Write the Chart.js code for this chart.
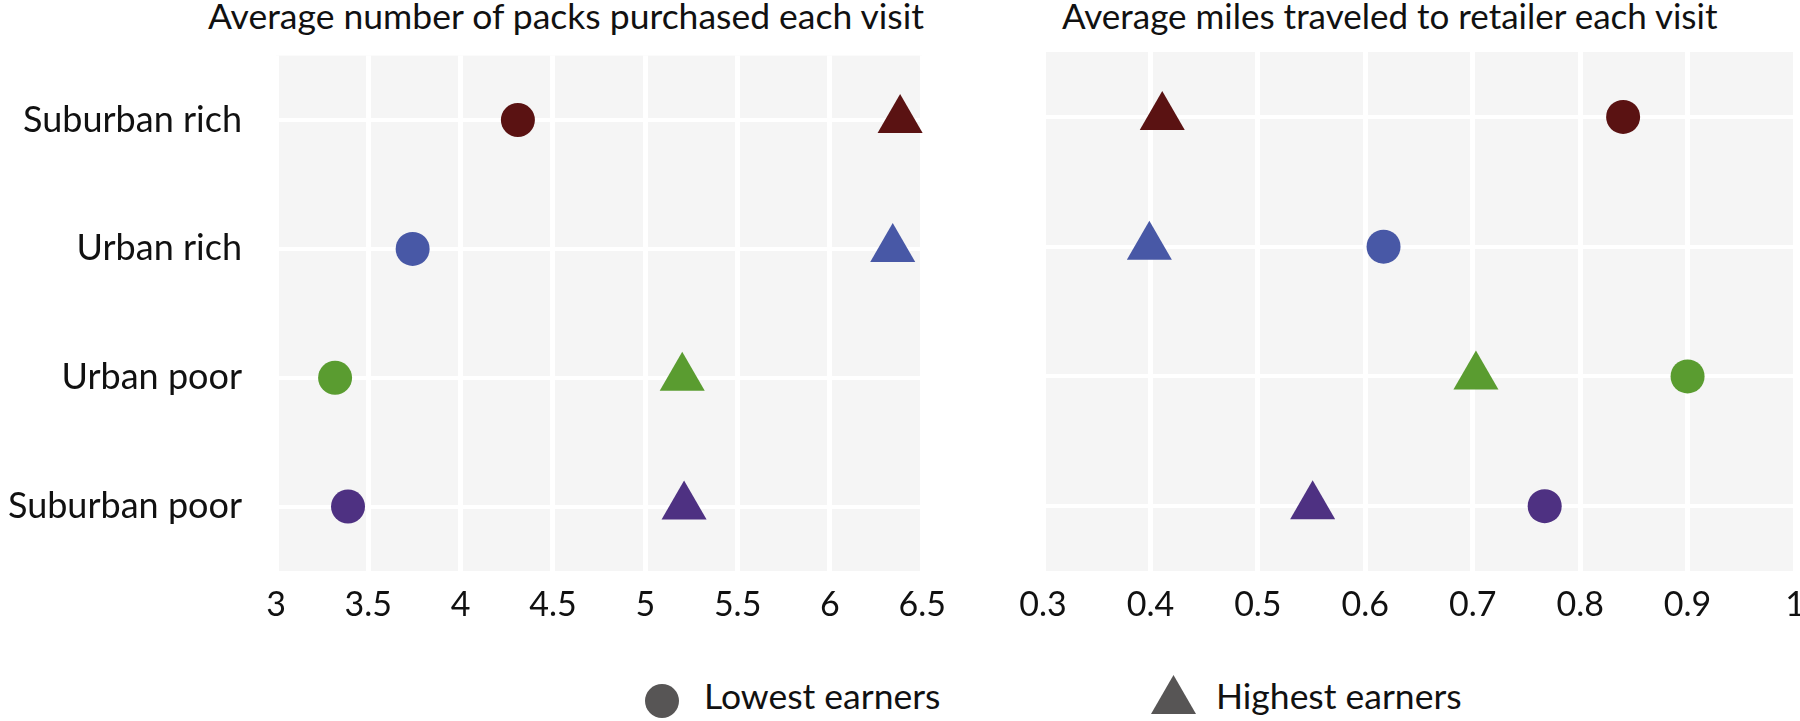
<!DOCTYPE html>
<html>
<head>
<meta charset="utf-8">
<title>Packs and miles by area</title>
<script src="https://cdn.jsdelivr.net/npm/chart.js@4.4.1/dist/chart.umd.min.js"></script>
<style>
  html, body { margin: 0; padding: 0; background: #fff; }
  body { width: 1800px; height: 721px; position: relative; overflow: hidden; font-family: Lato, sans-serif; color: #111; }
  canvas { position: absolute; top: 0; }
  #packsChart { left: 0; }
  #milesChart { left: 1000px; }
  .title { position: absolute; top: -6px; font-size: 35.5px; white-space: nowrap; }
  .lbl { position: absolute; top: 674px; font-size: 35.5px; white-space: nowrap; }
  .dot { position: absolute; left: 645px; top: 684px; width: 34px; height: 34px; border-radius: 50%; background: #575555; }
  .tri { position: absolute; left: 1151px; top: 675px; width: 45px; height: 39px; background: #575555;
         clip-path: polygon(50% 0, 100% 100%, 0 100%); }
</style>
</head>
<body>
<div class="title" style="left:208px">Average number of packs purchased each visit</div>
<div class="title" style="left:1062px; font-size:35px">Average miles traveled to retailer each visit</div>

<canvas id="packsChart" width="960" height="650"></canvas>
<!-- a bit wider than the page so the last tick can sit on the right edge -->
<canvas id="milesChart" width="830" height="650"></canvas>

<div class="dot"></div><div class="lbl" style="left:704px">Lowest earners</div>
<div class="tri"></div><div class="lbl" style="left:1216px">Highest earners</div>

<script>
// data
const categories = ["Suburban rich", "Urban rich", "Urban poor", "Suburban poor"];
const colors = ["#5a1212", "#4858a6", "#5a9c30", "#4e3182"];

const packsLowest = [4.31, 3.74, 3.32, 3.39];
const packsHighest = [6.38, 6.34, 5.2, 5.21];
const packsTicks = [3, 3.5, 4, 4.5, 5, 5.5, 6, 6.5];

const milesLowest = [0.84, 0.617, 0.9, 0.767];
const milesHighest = [0.411, 0.399, 0.703, 0.551];
const milesTicks = [0.3, 0.4, 0.5, 0.6, 0.7, 0.8, 0.9, 1];

const tickFont = { family: "Lato, sans-serif", size: 34 };
const catFont = { family: "Lato, sans-serif", size: 36 };

// grey panel behind the grid
const panelBg = {
  id: "panelBg",
  beforeDraw(chart) {
    const { ctx, chartArea: a } = chart;
    ctx.save();
    ctx.fillStyle = "#f5f5f5";
    ctx.fillRect(a.left, a.top, a.width, a.height);
    ctx.restore();
  },
};

const makeChart = (id, lowest, highest, ticks, showLabels, padding) => {
  return new Chart(document.getElementById(id), {
    type: "line",
    data: {
      labels: categories,
      datasets: [
        {
          label: "Lowest earners",
          data: lowest,
          pointStyle: "circle",
          pointRadius: 17,
          pointHoverRadius: 17,
          pointBackgroundColor: colors,
          pointBorderWidth: 0,
          showLine: false,
        },
        {
          label: "Highest earners",
          data: highest,
          pointStyle: "triangle",
          pointRadius: 26,
          pointHoverRadius: 26,
          pointBackgroundColor: colors,
          pointBorderWidth: 0,
          showLine: false,
        },
      ],
    },
    options: {
      responsive: false,
      animation: false,
      indexAxis: "y",
      clip: false,
      layout: { padding: padding },
      plugins: { legend: { display: false }, tooltip: { enabled: false } },
      scales: {
        x: {
          type: "linear",
          min: ticks[0],
          max: ticks[ticks.length - 1],
          afterBuildTicks: (s) => { s.ticks = ticks.map((v) => ({ value: v })); },
          afterFit: (s) => { s.height = 79; },
          grid: { color: "#ffffff", lineWidth: 5, drawTicks: false },
          border: { display: false },
          ticks: { color: "#111", font: tickFont, padding: 14, maxRotation: 0, callback: (v) => String(v) },
        },
        y: {
          type: "category",
          offset: true,
          afterFit: (s) => { s.width = showLabels ? 276 : 0; },
          grid: { color: "#ffffff", lineWidth: 4, drawTicks: false },
          border: { display: false },
          ticks: { display: showLabels, color: "#111", font: catFont, padding: 34 },
        },
      },
    },
    plugins: [panelBg],
  });
};

makeChart("packsChart", packsLowest, packsHighest, packsTicks, true, { top: 52, right: 36, left: 0, bottom: 0 });
makeChart("milesChart", milesLowest, milesHighest, milesTicks, false, { top: 52, right: 35, left: 43, bottom: 0 });
</script>
</body>
</html>
